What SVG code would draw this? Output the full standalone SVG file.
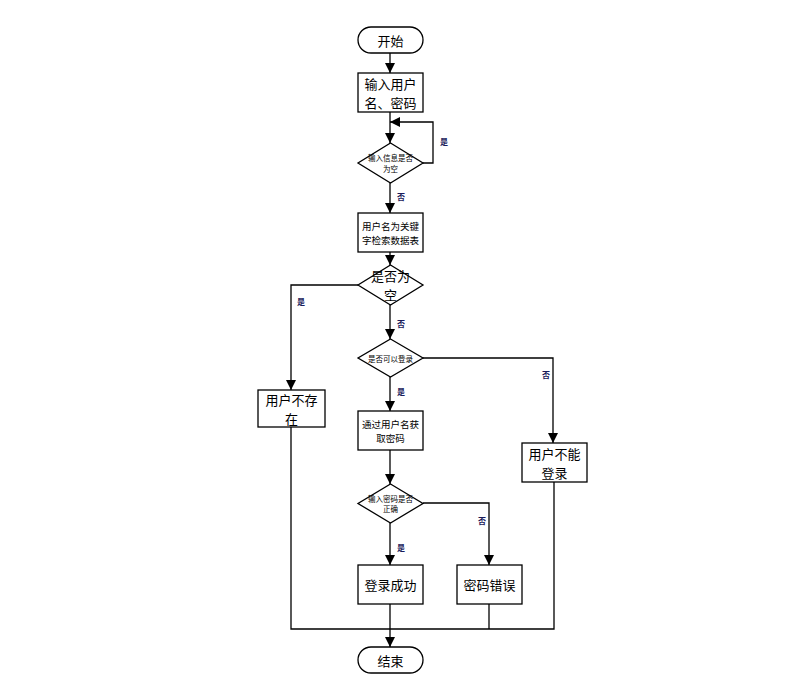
<svg xmlns="http://www.w3.org/2000/svg" width="805" height="676" viewBox="0 0 805 676">
<defs>
<marker id="ah" markerUnits="userSpaceOnUse" markerWidth="11" markerHeight="11" refX="10" refY="5" orient="auto"><path d="M0,0 L10,5 L0,10 z" fill="#000"/></marker>
<style>
.s{fill:#fff;stroke:#000;stroke-width:1.3}
.c{fill:none;stroke:#000;stroke-width:1.3}
.a{marker-end:url(#ah)}
text{font-family:"Noto Sans CJK SC","Liberation Sans",sans-serif;fill:#000;text-anchor:middle;dominant-baseline:central}
.l{font-size:13px}
.m{font-size:9.5px}
.t{font-size:7.5px}
.lb{font-size:8px;font-weight:bold;fill:#1a1a5a}
</style>
</defs>
<rect width="805" height="676" fill="#fff"/>
<g id="connectors">
<path class="c a" d="M390,53 V73"/>
<path class="c a" d="M390,112 V143"/>
<path class="c a" d="M423,163 H433 V122 H390"/>
<path class="c a" d="M390,183 V213"/>
<path class="c a" d="M390,252 V265"/>
<path class="c a" d="M358,285 H291 V390"/>
<path class="c a" d="M390,305 V339"/>
<path class="c a" d="M423,358 H553 V443"/>
<path class="c a" d="M390,377 V411"/>
<path class="c a" d="M390,450 V484"/>
<path class="c a" d="M423,503 H489 V565"/>
<path class="c a" d="M390,523 V565"/>
<path class="c a" d="M390,604 V647"/>
<path class="c" d="M291,427 V629 H554 V482"/>
<path class="c" d="M489,604 V629"/>
<text class="lb" x="444" y="141">是</text>
<text class="lb" x="401" y="196">否</text>
<text class="lb" x="301" y="301">是</text>
<text class="lb" x="401" y="323">否</text>
<text class="lb" x="546" y="374">否</text>
<text class="lb" x="401" y="391">是</text>
<text class="lb" x="482" y="520">否</text>
<text class="lb" x="401" y="547">是</text>
</g>
<g id="start">
<rect class="s" x="358" y="27" width="65" height="26" rx="13"/>
<text class="l" x="390.5" y="40">开始</text>
</g>
<g id="input">
<rect class="s" x="358" y="73" width="65" height="39"/>
<text class="l" x="390.5" y="83">输入用户</text>
<text class="l" x="390.5" y="102">名、密码</text>
</g>
<g id="checkEmpty">
<path class="s" d="M390.5,143 L423,163 L390.5,183 L358,163 z"/>
<text class="t" x="390.5" y="157.5">输入信息是否</text>
<text class="t" x="390.5" y="168">为空</text>
</g>
<g id="search">
<rect class="s" x="358" y="213" width="65" height="39"/>
<text class="m" x="390.5" y="225.5">用户名为关键</text>
<text class="m" x="390.5" y="239.5">字检索数据表</text>
</g>
<g id="resultEmpty">
<path class="s" d="M390.5,265 L423,285 L390.5,305 L358,285 z"/>
<text class="l" x="390.5" y="275.5">是否为</text>
<text class="l" x="390.5" y="294.5">空</text>
</g>
<g id="notExist">
<rect class="s" x="258" y="390" width="67" height="37"/>
<text class="l" x="291.5" y="399">用户不存</text>
<text class="l" x="291.5" y="418">在</text>
</g>
<g id="canLogin">
<path class="s" d="M390.5,339 L423,358 L390.5,377 L358,358 z"/>
<text class="t" x="390.5" y="358">是否可以登录</text>
</g>
<g id="cannotLogin">
<rect class="s" x="522" y="443" width="65" height="39"/>
<text class="l" x="554.5" y="453">用户不能</text>
<text class="l" x="554.5" y="472">登录</text>
</g>
<g id="getPwd">
<rect class="s" x="358" y="411" width="65" height="39"/>
<text class="m" x="390.5" y="423.5">通过用户名获</text>
<text class="m" x="390.5" y="437.5">取密码</text>
</g>
<g id="checkPwd">
<path class="s" d="M390.5,484 L423,503.5 L390.5,523 L358,503.5 z"/>
<text class="t" x="390.5" y="498">输入密码是否</text>
<text class="t" x="390.5" y="508.5">正确</text>
</g>
<g id="success">
<rect class="s" x="358" y="565" width="65" height="39"/>
<text class="l" x="390.5" y="584.5">登录成功</text>
</g>
<g id="pwdError">
<rect class="s" x="457" y="565" width="65" height="39"/>
<text class="l" x="489.5" y="584.5">密码错误</text>
</g>
<g id="end">
<rect class="s" x="358" y="647" width="65" height="26" rx="13"/>
<text class="l" x="390.5" y="660">结束</text>
</g>
</svg>
